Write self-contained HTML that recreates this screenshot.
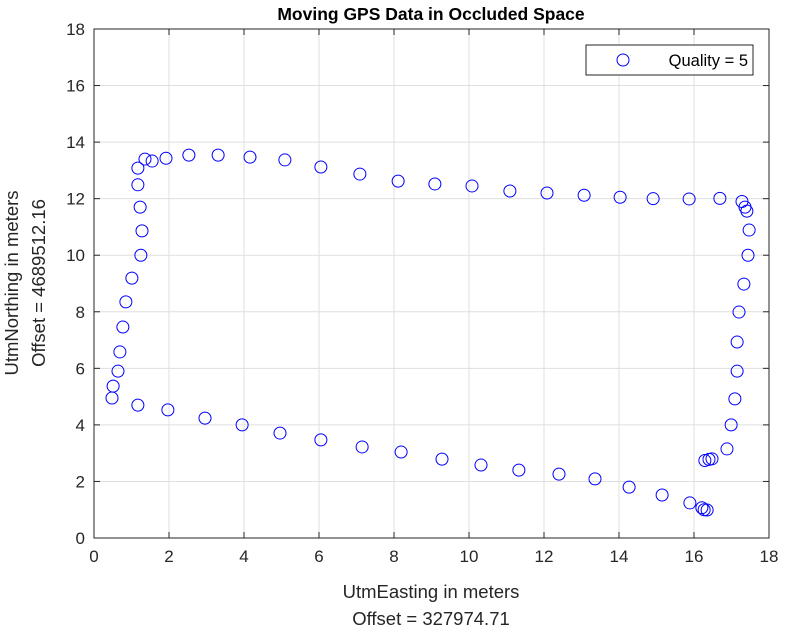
<!DOCTYPE html>
<html><head><meta charset="utf-8"><style>
body{margin:0;background:#fff;}
svg text{font-family:"Liberation Sans",Arial,sans-serif;}
</style></head><body>
<svg id="chart" width="785" height="632" viewBox="0 0 785 632">
<rect x="0" y="0" width="785" height="632" fill="#fff"/>
<g id="grid"></g>
<rect x="94" y="29" width="675" height="509" fill="none" stroke="#262626" stroke-width="1"/>
<g id="ticks"></g>
<g id="points"></g>
<text x="431" y="20" text-anchor="middle" font-size="17.5" font-weight="bold" fill="#000">Moving GPS Data in Occluded Space</text>
<text x="431" y="598" text-anchor="middle" font-size="18.5" fill="#262626">UtmEasting in meters</text>
<text x="431" y="625" text-anchor="middle" font-size="18.5" fill="#262626">Offset = 327974.71</text>
<text transform="translate(18,283) rotate(-90)" text-anchor="middle" font-size="18.5" fill="#262626">UtmNorthing in meters</text>
<text transform="translate(45,283) rotate(-90)" text-anchor="middle" font-size="18.5" fill="#262626">Offset = 4689512.16</text>
<g>
<rect x="586" y="45" width="167" height="30" fill="#fff" stroke="#262626" stroke-width="1"/>
<circle cx="623" cy="60" r="6" fill="none" stroke="#0000ff" stroke-width="1"/>
<text x="748" y="66" text-anchor="end" font-size="16.5" fill="#000">Quality = 5</text>
</g>
</svg>
<script>
const xTicks=[0,2,4,6,8,10,12,14,16,18];
const yTicks=[0,2,4,6,8,10,12,14,16,18];
const eastings=[0.48,0.51,0.64,0.69,0.77,0.85,1.01,1.25,1.28,1.23,1.17,1.17,1.36,1.55,1.92,2.53,3.31,4.16,5.09,6.05,7.09,8.11,9.09,10.08,11.09,12.08,13.07,14.03,14.91,15.87,16.69,17.28,17.36,17.41,17.47,17.44,17.33,17.2,17.15,17.15,17.09,16.99,16.88,16.48,16.4,16.29,16.35,16.27,16.21,15.89,15.15,14.27,13.36,12.4,11.33,10.32,9.28,8.19,7.15,6.05,4.96,3.95,2.96,1.97,1.17];
const northings=[4.95,5.37,5.9,6.58,7.46,8.35,9.19,10.0,10.86,11.7,12.49,13.08,13.4,13.33,13.43,13.54,13.54,13.47,13.37,13.12,12.87,12.62,12.52,12.45,12.27,12.2,12.12,12.05,12.0,11.99,12.01,11.9,11.7,11.56,10.89,10.0,8.98,7.99,6.93,5.9,4.92,4.0,3.15,2.8,2.78,2.74,0.99,1.0,1.07,1.24,1.52,1.8,2.09,2.26,2.4,2.58,2.79,3.04,3.22,3.47,3.71,4.0,4.24,4.53,4.7];
const NS='http://www.w3.org/2000/svg';
const X0=94,X1=769,Y0=538,Y1=29;
function sx(v){return X0+(v-0)/(18-0)*(X1-X0);}
function sy(v){return Y0-(v-0)/(18-0)*(Y0-Y1);}
function mk(tag,attrs,parent){const e=document.createElementNS(NS,tag);for(const k in attrs)e.setAttribute(k,attrs[k]);parent.appendChild(e);return e;}
const grid=document.getElementById('grid'),ticks=document.getElementById('ticks'),pts=document.getElementById('points');
xTicks.forEach(t=>{
  const x=sx(t);
  const g=mk('line',{x1:x,x2:x,y1:Y1,y2:Y0,stroke:'#dfdfdf','stroke-width':1},grid);
  
  
  mk('line',{x1:x,x2:x,y1:Y0,y2:Y0-6,stroke:'#262626'},ticks);
  mk('line',{x1:x,x2:x,y1:Y1,y2:Y1+6,stroke:'#262626'},ticks);
  const tx=mk('text',{x:x,y:Y0+24,'text-anchor':'middle','font-size':17,fill:'#262626'},ticks);
  tx.textContent=t;
  
  
});
yTicks.forEach(t=>{
  const y=sy(t);
  const g=mk('line',{x1:X0,x2:X1,y1:y,y2:y,stroke:'#dfdfdf','stroke-width':1},grid);
  
  
  mk('line',{x1:X0,x2:X0+6,y1:y,y2:y,stroke:'#262626'},ticks);
  mk('line',{x1:X1,x2:X1-6,y1:y,y2:y,stroke:'#262626'},ticks);
  const tx=mk('text',{x:X0-9,y:y+6,'text-anchor':'end','font-size':17,fill:'#262626'},ticks);
  tx.textContent=t;
  
  
});
eastings.forEach((e,i)=>{
  const c=mk('circle',{cx:sx(e),cy:sy(northings[i]),r:6,fill:'none',stroke:'#0000ff','stroke-width':1},pts);
  
  
});
</script>
</body></html>
